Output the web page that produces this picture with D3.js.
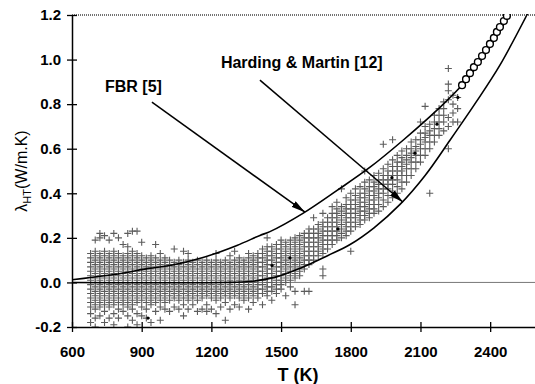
<!DOCTYPE html>
<html>
<head>
<meta charset="utf-8">
<script src="https://cdn.jsdelivr.net/npm/d3@7/dist/d3.min.js"></script>
<style>
  body { margin: 0; background: #fff; }
  svg text { font-family: "Liberation Sans", Arial, Helvetica, sans-serif; }
</style>
</head>
<body>
<div id="chart"></div>
<script>
// axis ticks
const xTicks = [600, 900, 1200, 1500, 1800, 2100, 2400];
const yTicks = [-0.2, 0, 0.2, 0.4, 0.6, 0.8, 1.0, 1.2];

// model curves [T (K), lambda]
const fbrCurve = [
  [600, 0.012], [680, 0.022], [810, 0.04], [930, 0.063], [1022, 0.076],
  [1164, 0.112], [1310, 0.166], [1409, 0.211], [1452, 0.228], [1594, 0.31],
  [1741, 0.413], [1883, 0.517], [2025, 0.638], [2171, 0.773], [2283, 0.89],
  [2386, 1.035], [2477, 1.191], [2490, 1.215]
];
const hardingCurve = [
  [600, 0.0], [1250, 0.0], [1366, 0.004], [1480, 0.025], [1581, 0.063],
  [1700, 0.12], [1797, 0.17], [1900, 0.245], [2012, 0.35], [2120, 0.48],
  [2227, 0.638], [2340, 0.81], [2442, 0.975], [2558, 1.2], [2570, 1.225]
];

// measured points, grouped by temperature: [T, [lambda...]]
const measured = [
  [680, [-0.18, -0.14, -0.11, -0.09, -0.07, -0.05, -0.03, -0.01, 0.01, 0.03, 0.05, 0.07, 0.09, 0.11, 0.13]],
  [700, [-0.2, -0.16, -0.12, -0.1, -0.08, -0.06, -0.04, -0.02, 0.0, 0.02, 0.04, 0.06, 0.08, 0.1, 0.12, 0.14, 0.19]],
  [720, [-0.15, -0.11, -0.09, -0.07, -0.05, -0.03, -0.01, 0.01, 0.03, 0.05, 0.07, 0.09, 0.11, 0.13, 0.2, 0.22]],
  [740, [-0.18, -0.13, -0.1, -0.08, -0.06, -0.04, -0.02, 0.0, 0.02, 0.04, 0.06, 0.08, 0.1, 0.12, 0.14, 0.21]],
  [760, [-0.16, -0.11, -0.09, -0.07, -0.05, -0.03, -0.01, 0.01, 0.03, 0.05, 0.07, 0.09, 0.11, 0.13, 0.19]],
  [780, [-0.19, -0.14, -0.1, -0.08, -0.06, -0.04, -0.02, 0.0, 0.02, 0.04, 0.06, 0.08, 0.1, 0.12, 0.14, 0.22]],
  [800, [-0.16, -0.12, -0.09, -0.07, -0.05, -0.03, -0.01, 0.01, 0.03, 0.05, 0.07, 0.09, 0.11, 0.13, 0.2]],
  [820, [-0.13, -0.1, -0.08, -0.06, -0.04, -0.02, 0.0, 0.02, 0.04, 0.06, 0.08, 0.1, 0.12, 0.17]],
  [840, [-0.2, -0.15, -0.11, -0.09, -0.07, -0.05, -0.03, -0.01, 0.01, 0.03, 0.05, 0.07, 0.09, 0.11, 0.13, 0.16, 0.22]],
  [860, [-0.17, -0.12, -0.1, -0.08, -0.06, -0.04, -0.02, 0.0, 0.02, 0.04, 0.06, 0.08, 0.1, 0.12, 0.14, 0.23]],
  [880, [-0.19, -0.14, -0.09, -0.07, -0.05, -0.03, -0.01, 0.01, 0.03, 0.05, 0.07, 0.09, 0.11, 0.13, 0.23]],
  [900, [-0.15, -0.11, -0.08, -0.06, -0.04, -0.02, 0.0, 0.02, 0.04, 0.06, 0.08, 0.1, 0.12, 0.18]],
  [920, [-0.16, -0.12, -0.09, -0.07, -0.05, -0.03, -0.01, 0.01, 0.03, 0.05, 0.07, 0.09, 0.11]],
  [940, [-0.18, -0.1, -0.08, -0.06, -0.04, -0.02, 0.0, 0.02, 0.04, 0.06, 0.08, 0.1, 0.12]],
  [960, [-0.13, -0.09, -0.07, -0.05, -0.03, -0.01, 0.01, 0.03, 0.05, 0.07, 0.09, 0.11, 0.17]],
  [980, [-0.17, -0.11, -0.08, -0.06, -0.04, -0.02, 0.0, 0.02, 0.04, 0.06, 0.08, 0.1, 0.13]],
  [1000, [-0.12, -0.09, -0.07, -0.05, -0.03, -0.01, 0.01, 0.03, 0.05, 0.07, 0.09, 0.11]],
  [1020, [-0.13, -0.08, -0.06, -0.04, -0.02, 0.0, 0.02, 0.04, 0.06, 0.08, 0.1]],
  [1040, [-0.11, -0.07, -0.05, -0.03, -0.01, 0.01, 0.03, 0.05, 0.07, 0.09, 0.15]],
  [1060, [-0.12, -0.08, -0.06, -0.04, -0.02, 0.0, 0.02, 0.04, 0.06, 0.08, 0.1]],
  [1080, [-0.15, -0.1, -0.07, -0.05, -0.03, -0.01, 0.01, 0.03, 0.05, 0.07, 0.09, 0.14]],
  [1100, [-0.12, -0.08, -0.06, -0.04, -0.02, 0.0, 0.02, 0.04, 0.06, 0.08, 0.1, 0.13]],
  [1120, [-0.1, -0.07, -0.05, -0.03, -0.01, 0.01, 0.03, 0.05, 0.07, 0.09]],
  [1140, [-0.13, -0.08, -0.06, -0.04, -0.02, 0.0, 0.02, 0.04, 0.06, 0.08, 0.1]],
  [1160, [-0.12, -0.07, -0.05, -0.03, -0.01, 0.01, 0.03, 0.05, 0.07, 0.09]],
  [1180, [-0.13, -0.1, -0.06, -0.04, -0.02, 0.0, 0.02, 0.04, 0.06, 0.08, 0.1]],
  [1200, [-0.12, -0.07, -0.05, -0.03, -0.01, 0.01, 0.03, 0.05, 0.07, 0.09]],
  [1220, [-0.14, -0.08, -0.06, -0.04, -0.02, 0.0, 0.02, 0.04, 0.06, 0.08, 0.1, 0.13]],
  [1240, [-0.11, -0.07, -0.05, -0.03, -0.01, 0.01, 0.03, 0.05, 0.07, 0.09]],
  [1260, [-0.17, -0.09, -0.06, -0.04, -0.02, 0.0, 0.02, 0.04, 0.06, 0.08, 0.1]],
  [1280, [-0.12, -0.07, -0.05, -0.03, -0.01, 0.01, 0.03, 0.05, 0.07, 0.09, 0.12]],
  [1300, [-0.1, -0.06, -0.04, -0.02, 0.0, 0.02, 0.04, 0.06, 0.08, 0.1, 0.14]],
  [1320, [-0.11, -0.07, -0.05, -0.03, -0.01, 0.01, 0.03, 0.05, 0.07, 0.09, 0.11]],
  [1340, [-0.08, -0.06, -0.04, -0.02, 0.0, 0.02, 0.04, 0.06, 0.08, 0.1]],
  [1360, [-0.12, -0.07, -0.05, -0.03, -0.01, 0.01, 0.03, 0.05, 0.07, 0.09, 0.11, 0.13]],
  [1380, [-0.09, -0.06, -0.04, -0.02, 0.0, 0.02, 0.04, 0.06, 0.08, 0.1, 0.12]],
  [1400, [-0.07, -0.05, -0.03, -0.01, 0.01, 0.03, 0.05, 0.07, 0.09, 0.11, 0.13]],
  [1420, [-0.1, -0.05, -0.03, -0.01, 0.01, 0.03, 0.05, 0.07, 0.09, 0.11, 0.13, 0.15]],
  [1440, [-0.06, -0.04, -0.02, 0.0, 0.02, 0.04, 0.06, 0.08, 0.1, 0.12, 0.14, 0.16, 0.2]],
  [1460, [-0.08, -0.04, -0.02, 0.0, 0.02, 0.04, 0.06, 0.08, 0.1, 0.12, 0.14, 0.16]],
  [1480, [-0.05, -0.03, -0.01, 0.01, 0.03, 0.05, 0.07, 0.09, 0.11, 0.13, 0.15, 0.17]],
  [1500, [-0.03, -0.01, 0.01, 0.03, 0.05, 0.07, 0.09, 0.11, 0.13, 0.15, 0.17, 0.19]],
  [1520, [-0.06, 0.0, 0.02, 0.04, 0.06, 0.08, 0.1, 0.12, 0.14, 0.16, 0.18]],
  [1540, [-0.02, 0.01, 0.03, 0.05, 0.07, 0.09, 0.11, 0.13, 0.15, 0.17, 0.19]],
  [1560, [-0.1, -0.04, 0.02, 0.04, 0.06, 0.08, 0.1, 0.12, 0.14, 0.16, 0.18, 0.2]],
  [1580, [0.03, 0.05, 0.07, 0.09, 0.11, 0.13, 0.15, 0.17, 0.19, 0.21]],
  [1600, [-0.04, 0.06, 0.08, 0.1, 0.12, 0.14, 0.16, 0.18, 0.2, 0.22]],
  [1620, [-0.04, 0.08, 0.1, 0.12, 0.14, 0.16, 0.18, 0.2, 0.22, 0.24]],
  [1640, [0.1, 0.12, 0.14, 0.16, 0.18, 0.2, 0.22, 0.24, 0.29]],
  [1660, [0.12, 0.14, 0.16, 0.18, 0.2, 0.22, 0.24, 0.26]],
  [1680, [0.03, 0.06, 0.13, 0.15, 0.17, 0.19, 0.21, 0.23, 0.25, 0.27, 0.31]],
  [1700, [0.15, 0.17, 0.19, 0.21, 0.23, 0.25, 0.27, 0.29]],
  [1720, [0.17, 0.19, 0.21, 0.23, 0.25, 0.27, 0.29, 0.31, 0.34]],
  [1740, [0.19, 0.21, 0.23, 0.25, 0.27, 0.29, 0.31, 0.33, 0.36]],
  [1760, [0.2, 0.22, 0.24, 0.26, 0.28, 0.3, 0.32, 0.34, 0.42]],
  [1780, [0.21, 0.23, 0.25, 0.27, 0.29, 0.31, 0.33, 0.35, 0.38]],
  [1800, [0.14, 0.23, 0.25, 0.27, 0.29, 0.31, 0.33, 0.35, 0.37, 0.4]],
  [1820, [0.25, 0.27, 0.29, 0.31, 0.33, 0.35, 0.37, 0.39, 0.42]],
  [1840, [0.26, 0.28, 0.3, 0.32, 0.34, 0.36, 0.38, 0.4, 0.43]],
  [1860, [0.28, 0.3, 0.32, 0.34, 0.36, 0.38, 0.4, 0.42, 0.45, 0.5]],
  [1880, [0.29, 0.31, 0.33, 0.35, 0.37, 0.39, 0.41, 0.43, 0.46]],
  [1900, [0.31, 0.33, 0.35, 0.37, 0.39, 0.41, 0.43, 0.45, 0.48]],
  [1920, [0.32, 0.35, 0.38, 0.4, 0.42, 0.44, 0.46, 0.49]],
  [1940, [0.34, 0.37, 0.4, 0.42, 0.44, 0.46, 0.48, 0.51, 0.62]],
  [1960, [0.36, 0.39, 0.42, 0.44, 0.46, 0.48, 0.5, 0.53]],
  [1980, [0.38, 0.41, 0.44, 0.46, 0.48, 0.5, 0.52, 0.55, 0.64]],
  [2000, [0.4, 0.43, 0.46, 0.48, 0.5, 0.52, 0.54, 0.57]],
  [2020, [0.42, 0.45, 0.48, 0.5, 0.52, 0.54, 0.56, 0.59]],
  [2040, [0.45, 0.48, 0.51, 0.53, 0.55, 0.57, 0.6]],
  [2060, [0.48, 0.51, 0.54, 0.56, 0.58, 0.6, 0.63]],
  [2080, [0.51, 0.54, 0.57, 0.59, 0.61, 0.64]],
  [2100, [0.54, 0.57, 0.6, 0.62, 0.64, 0.67, 0.72]],
  [2120, [0.57, 0.6, 0.63, 0.65, 0.67, 0.7, 0.79]],
  [2140, [0.4, 0.6, 0.63, 0.66, 0.68, 0.71]],
  [2160, [0.63, 0.66, 0.69, 0.72, 0.75]],
  [2180, [0.66, 0.69, 0.72, 0.75, 0.78]],
  [2200, [0.68, 0.72, 0.75, 0.78, 0.81]],
  [2220, [0.6, 0.7, 0.74, 0.82, 0.86, 0.89, 0.96]],
  [2240, [0.72, 0.76, 0.8, 0.84]],
  [2260, [0.72, 0.78, 0.83]]
];

// open circles at the high temperature end
const circleT = [2279, 2296, 2313, 2330, 2347, 2365, 2382, 2399, 2416, 2429, 2442, 2459, 2472];
const circleV = [0.885, 0.912, 0.939, 0.966, 0.989, 1.016, 1.043, 1.07, 1.097, 1.124, 1.146, 1.173, 1.196];

// small filled dots
const dotT = [927, 1461, 1538, 1745, 1977, 2076, 2171, 2261];
const dotV = [-0.16, 0.076, 0.11, 0.24, 0.47, 0.58, 0.71, 0.83];

// labels with arrows (data units)
const notes = [
  { text: 'FBR [5]', at: [742, 0.854], from: [944, 0.809], to: [1603, 0.315] },
  { text: 'Harding & Martin [12]', at: [1241, 0.962], from: [1409, 0.908], to: [2025, 0.36] }
];

const width = 535, height = 384;

const svg = d3.select('#chart').append('svg')
  .attr('width', width)
  .attr('height', height);

const x = d3.scaleLinear().domain([600, 2593]).range([72, 535]);
const y = d3.scaleLinear().domain([-0.2, 1.2]).range([327, 15]);

svg.append('defs').append('clipPath').attr('id', 'plot')
  .append('rect')
  .attr('x', x(600)).attr('y', y(1.2) - 1)
  .attr('width', x(2593) - x(600)).attr('height', y(-0.2) - y(1.2) + 1);

svg.select('defs').append('marker')
  .attr('id', 'head')
  .attr('viewBox', '0 0 14 7')
  .attr('refX', 14).attr('refY', 3.5)
  .attr('markerWidth', 14).attr('markerHeight', 7)
  .attr('markerUnits', 'userSpaceOnUse')
  .attr('orient', 'auto')
  .append('path').attr('d', 'M0,0L14,3.5L0,7Z').attr('fill', '#000');

// top frame line (dotted) and zero line
svg.append('line')
  .attr('x1', x(600)).attr('x2', x(2593))
  .attr('y1', y(1.2)).attr('y2', y(1.2))
  .attr('stroke', '#444').attr('stroke-width', 1.5)
  .attr('stroke-dasharray', '1,1');

svg.append('line')
  .attr('x1', x(600)).attr('x2', x(2593))
  .attr('y1', y(0)).attr('y2', y(0))
  .attr('stroke', '#777').attr('stroke-width', 1);

// scatter of measured points
const pts = [];
measured.forEach(c => c[1].forEach(v => pts.push([c[0], v])));

const plot = svg.append('g').attr('clip-path', 'url(#plot)');

plot.selectAll('path.plus')
  .data(pts)
  .enter()
  .append('path')
  .attr('class', 'plus')
  .attr('transform', d => `translate(${x(d[0])},${y(d[1])})`)
  .attr('d', 'M-3.5,0H3.5M0,-3.5V3.5')
  .attr('stroke', '#5c5c5c')
  .attr('stroke-width', 1.1)
  .attr('fill', 'none');

// curves
const line = d3.line()
  .x(d => x(d[0]))
  .y(d => y(d[1]))
  .curve(d3.curveCatmullRom.alpha(0.5));

[fbrCurve, hardingCurve].forEach(c => {
  plot.append('path')
    .datum(c)
    .attr('d', line)
    .attr('fill', 'none')
    .attr('stroke', '#000')
    .attr('stroke-width', 1.6);
});

plot.selectAll('circle.dot')
  .data(dotT)
  .enter()
  .append('circle')
  .attr('class', 'dot')
  .attr('cx', d => x(d))
  .attr('cy', (d, i) => y(dotV[i]))
  .attr('r', 1.6)
  .attr('fill', '#000');

plot.selectAll('circle.open')
  .data(circleT)
  .enter()
  .append('circle')
  .attr('class', 'open')
  .attr('cx', d => x(d))
  .attr('cy', (d, i) => y(circleV[i]))
  .attr('r', 3.4)
  .attr('fill', '#fff')
  .attr('stroke', '#000')
  .attr('stroke-width', 1.4);

// annotations
notes.forEach(n => {
  svg.append('line')
    .attr('x1', x(n.from[0])).attr('y1', y(n.from[1]))
    .attr('x2', x(n.to[0])).attr('y2', y(n.to[1]))
    .attr('stroke', '#000').attr('stroke-width', 1.5)
    .attr('marker-end', 'url(#head)');
  svg.append('text')
    .attr('x', x(n.at[0])).attr('y', y(n.at[1]))
    .text(n.text)
    .style('font-size', '16px')
    .style('font-weight', 'bold');
});

// axes
const yAxis = svg.append('g')
  .attr('transform', `translate(${x(600)},0)`)
  .call(d3.axisLeft(y).tickValues(yTicks).tickFormat(d => d.toFixed(1))
    .tickSize(5).tickSizeOuter(0).tickPadding(6));
yAxis.selectAll('.tick line').attr('x1', 5);

const xAxis = svg.append('g')
  .attr('transform', `translate(0,${y(-0.2)})`)
  .call(d3.axisBottom(x).tickValues(xTicks).tickFormat(d3.format('d'))
    .tickSize(5).tickSizeOuter(0).tickPadding(14));
xAxis.selectAll('.tick line').attr('y1', -5);

[xAxis, yAxis].forEach(a => {
  a.select('.domain').attr('stroke', '#000').attr('stroke-width', 1.5);
  a.selectAll('.tick line').attr('stroke', '#000').attr('stroke-width', 1.3);
  a.selectAll('.tick text')
    .attr('fill', '#000')
    .style('font-size', '15px')
    .style('font-weight', 'bold')
    .style('font-family', '"Liberation Sans", Arial, sans-serif');
});

// axis titles
svg.append('text')
  .attr('x', x(1500) + 17)
  .attr('y', 381)
  .attr('text-anchor', 'middle')
  .style('font-size', '18px')
  .style('font-weight', 'bold')
  .text('T (K)');

const yTitle = svg.append('text')
  .attr('transform', 'translate(27,171) rotate(-90)')
  .attr('text-anchor', 'middle')
  .style('font-size', '16px');
yTitle.append('tspan').text('λ');
yTitle.append('tspan').attr('dy', 4).style('font-size', '11px').text('HT');
yTitle.append('tspan').attr('dy', -4).text('(W/m.K)');
</script>
</body>
</html>
